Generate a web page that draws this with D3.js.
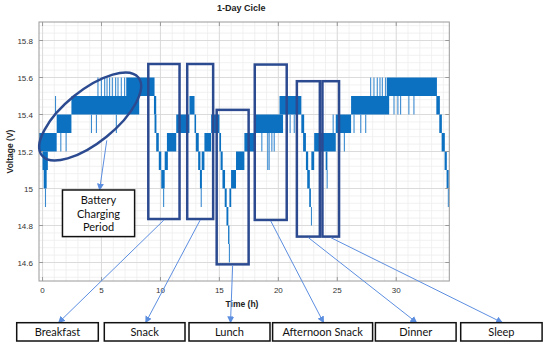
<!DOCTYPE html>
<html>
<head>
<meta charset="utf-8">
<script src="https://cdn.jsdelivr.net/npm/d3@7"></script>
<style>
  body { margin: 0; background: #fff; }
  svg { display: block; }
</style>
</head>
<body>
<div id="chart"></div>
<script>
// axis ticks
const xTicks = [0, 5, 10, 15, 20, 25, 30];
const yTicks = [14.6, 14.8, 15, 15.2, 15.4, 15.6, 15.8];

// dense switching between two voltage levels: [t start (h), t end (h), low V, high V]
const bands = [
  [-0.3, 1.2, 15.2, 15.3], [0.0, 0.45, 15.1, 15.2], [0.1, 0.35, 15.0, 15.1],
  [1.2, 2.45, 15.3, 15.4], [2.45, 8.2, 15.4, 15.5], [7.1, 9.5, 15.5, 15.6],
  // breakfast
  [9.45, 9.64, 15.4, 15.5], [9.5, 9.66, 15.3, 15.4], [9.64, 9.86, 15.2, 15.3],
  [9.86, 10.07, 15.1, 15.2], [10.07, 10.36, 15.0, 15.1], [10.36, 10.63, 15.1, 15.2],
  [10.55, 11.34, 15.2, 15.3], [11.34, 12.46, 15.3, 15.4], [12.46, 12.89, 15.4, 15.5],
  // snack
  [12.89, 13.02, 15.3, 15.4], [13.0, 13.25, 15.2, 15.3], [13.2, 13.39, 15.1, 15.2],
  [13.35, 13.52, 15.0, 15.1], [13.5, 13.73, 15.1, 15.2], [13.73, 14.3, 15.2, 15.3],
  [14.3, 15.0, 15.3, 15.4],
  // lunch
  [15.0, 15.14, 15.2, 15.3], [15.1, 15.28, 15.1, 15.2], [15.26, 15.48, 15.0, 15.1],
  [15.45, 15.62, 14.9, 15.0], [15.6, 15.76, 14.8, 14.9], [15.74, 15.85, 14.7, 14.8],
  [15.85, 16.0, 14.9, 15.0], [15.99, 16.41, 15.0, 15.1], [16.41, 17.12, 15.1, 15.2],
  [17.12, 17.96, 15.2, 15.3],
  // afternoon snack
  [17.96, 20.4, 15.3, 15.4], [20.1, 21.95, 15.4, 15.5],
  // dinner
  [21.95, 22.19, 15.3, 15.4], [22.1, 22.34, 15.2, 15.3], [22.34, 22.53, 15.1, 15.2],
  [22.45, 22.67, 15.0, 15.1], [22.62, 22.76, 14.9, 15.0], [22.8, 23.04, 15.1, 15.2],
  // sleep
  [23.04, 24.87, 15.2, 15.3], [24.02, 24.16, 15.1, 15.2], [24.87, 26.17, 15.3, 15.4],
  [26.17, 29.4, 15.4, 15.5], [29.2, 33.45, 15.5, 15.6],
  // end of day
  [33.4, 33.7, 15.4, 15.5], [33.65, 33.87, 15.3, 15.4], [33.85, 34.12, 15.2, 15.3],
  [34.1, 34.29, 15.1, 15.2], [34.27, 34.45, 15.0, 15.1]
];

// single short excursions: [t (h), from V, to V]
const spikes = [
  [0.25, 15.0, 14.9], [1.1, 15.4, 15.5], [1.55, 15.3, 15.2], [2.0, 15.3, 15.2],
  [4.15, 15.4, 15.3], [4.57, 15.4, 15.3], [6.26, 15.4, 15.3],
  [4.70, 15.5, 15.6], [4.99, 15.5, 15.6], [5.27, 15.5, 15.6], [5.47, 15.5, 15.6],
  [5.69, 15.5, 15.6], [5.92, 15.5, 15.6], [6.20, 15.5, 15.6], [6.40, 15.5, 15.6],
  [6.68, 15.5, 15.6], [6.96, 15.5, 15.6],
  [10.27, 15.0, 14.9], [13.46, 15.0, 14.9], [15.85, 14.7, 14.6],
  [18.6, 15.3, 15.2], [19.1, 15.3, 15.1], [19.22, 15.3, 15.1], [19.45, 15.3, 15.2], [19.65, 15.3, 15.2],
  [20.75, 15.4, 15.3], [21.0, 15.4, 15.3], [21.35, 15.4, 15.3],
  [22.81, 14.9, 14.8], [24.14, 15.1, 15.0], [24.65, 15.3, 15.4],
  [25.2, 15.3, 15.2], [25.6, 15.3, 15.2],
  [26.42, 15.4, 15.3], [26.99, 15.4, 15.3], [27.41, 15.4, 15.3],
  [27.83, 15.5, 15.6], [28.11, 15.5, 15.6], [28.39, 15.5, 15.6], [28.62, 15.5, 15.6],
  [28.82, 15.5, 15.6], [29.1, 15.5, 15.6],
  [29.81, 15.5, 15.4], [30.14, 15.5, 15.4], [30.37, 15.5, 15.4], [31.07, 15.5, 15.4], [31.5, 15.5, 15.4],
  [34.42, 15.0, 14.9]
];

// annotations
const mealLabels = ["Breakfast", "Snack", "Lunch", "Afternoon Snack", "Dinner", "Sleep"];
// highlighted windows: [t start, t end, low V, high V]
const mealWindows = [
  [8.97, 11.62, 14.835, 15.673],
  [12.27, 14.47, 14.835, 15.673],
  [14.77, 17.48, 14.59, 15.425],
  [18.0, 20.71, 14.83, 15.67],
  [21.57, 23.52, 14.74, 15.58],
  [23.74, 25.15, 14.74, 15.58]
];
const chargingLabel = ["Battery", "Charging", "Period"];

const W = 550, H = 348;
const plot = { left: 39, right: 449.3, top: 22, bottom: 281 };

const svg = d3.select("#chart").append("svg")
  .attr("width", W).attr("height", H)
  .style("font-family", "'Liberation Sans', Arial, sans-serif");

const x = d3.scaleLinear().domain([-0.3, 34.5]).range([plot.left, plot.right]);
const y = d3.scaleLinear().domain([14.5, 15.9]).range([plot.bottom, plot.top]);

// grid
const minorX = d3.range(0, 35, 1);
const minorY = d3.range(0, 35).map(i => 14.52 + i * 0.04);
const grid = svg.append("g");
grid.selectAll("line.mx").data(minorX).join("line")
  .attr("x1", d => x(d)).attr("x2", d => x(d))
  .attr("y1", plot.top).attr("y2", plot.bottom)
  .attr("stroke", "#ededed").attr("stroke-width", 0.8);
grid.selectAll("line.my").data(minorY).join("line")
  .attr("x1", plot.left).attr("x2", plot.right)
  .attr("y1", d => y(d)).attr("y2", d => y(d))
  .attr("stroke", "#ededed").attr("stroke-width", 0.8);
grid.selectAll("line.gx").data(xTicks).join("line")
  .attr("x1", d => x(d)).attr("x2", d => x(d))
  .attr("y1", plot.top).attr("y2", plot.bottom)
  .attr("stroke", "#d6d6d6").attr("stroke-width", 0.8);
grid.selectAll("line.gy").data(yTicks).join("line")
  .attr("x1", plot.left).attr("x2", plot.right)
  .attr("y1", d => y(d)).attr("y2", d => y(d))
  .attr("stroke", "#d6d6d6").attr("stroke-width", 0.8);

// data
svg.append("clipPath").attr("id", "clip").append("rect")
  .attr("x", plot.left).attr("y", plot.top)
  .attr("width", plot.right - plot.left).attr("height", plot.bottom - plot.top);

const trace = svg.append("g").attr("clip-path", "url(#clip)");
trace.selectAll("rect").data(bands).join("rect")
  .attr("x", d => x(d[0]))
  .attr("width", d => Math.max(1.2, x(d[1]) - x(d[0])))
  .attr("y", d => y(d[3]))
  .attr("height", d => y(d[2]) - y(d[3]))
  .attr("fill", "#0d71c2");
trace.selectAll("line").data(spikes).join("line")
  .attr("x1", d => x(d[0])).attr("x2", d => x(d[0]))
  .attr("y1", d => y(d[1])).attr("y2", d => y(d[2]))
  .attr("stroke", "#3a8ad0").attr("stroke-width", 1.1);

// axes box with inward ticks
const ax = svg.append("g").attr("stroke", "#9a9a9a").attr("stroke-width", 1);
ax.append("rect")
  .attr("x", plot.left).attr("y", plot.top)
  .attr("width", plot.right - plot.left).attr("height", plot.bottom - plot.top)
  .attr("fill", "none");
const tk = 4;
xTicks.forEach(t => {
  ax.append("line").attr("x1", x(t)).attr("x2", x(t)).attr("y1", plot.bottom).attr("y2", plot.bottom - tk);
  ax.append("line").attr("x1", x(t)).attr("x2", x(t)).attr("y1", plot.top).attr("y2", plot.top + tk);
});
yTicks.forEach(v => {
  ax.append("line").attr("x1", plot.left).attr("x2", plot.left + tk).attr("y1", y(v)).attr("y2", y(v));
  ax.append("line").attr("x1", plot.right).attr("x2", plot.right - tk).attr("y1", y(v)).attr("y2", y(v));
});

svg.selectAll("text.xt").data(xTicks).join("text")
  .attr("x", d => x(d)).attr("y", plot.bottom + 12)
  .attr("text-anchor", "middle").attr("font-size", 8).attr("fill", "#333")
  .text(d => d);
svg.selectAll("text.yt").data(yTicks).join("text")
  .attr("x", plot.left - 6).attr("y", d => y(d) + 3)
  .attr("text-anchor", "end").attr("font-size", 8).attr("fill", "#333")
  .text(d => d);

svg.append("text")
  .attr("x", (plot.left + plot.right) / 2 - 3).attr("y", 10.5)
  .attr("text-anchor", "middle").attr("font-size", 9).attr("font-weight", "bold")
  .attr("fill", "#222").text("1-Day Cicle");
svg.append("text")
  .attr("x", 242).attr("y", 307)
  .attr("text-anchor", "middle").attr("font-size", 8.5).attr("font-weight", "bold")
  .attr("fill", "#222").text("Time (h)");
svg.append("text")
  .attr("transform", `translate(13,${(plot.top + plot.bottom) / 2}) rotate(-90)`)
  .attr("text-anchor", "middle").attr("font-size", 8.5).attr("font-weight", "bold")
  .attr("fill", "#222").text("Voltage (V)");

// annotation layer
const dark = "#2b4a90", arrowCol = "#5c8ee0";
const defs = svg.append("defs");
defs.append("marker").attr("id", "ah")
  .attr("viewBox", "0 0 10 10").attr("refX", 9).attr("refY", 5)
  .attr("markerWidth", 7).attr("markerHeight", 7).attr("orient", "auto-start-reverse")
  .attr("markerUnits", "userSpaceOnUse")
  .append("path").attr("d", "M0,0 L10,5 L0,10 z").attr("fill", arrowCol);

const ann = svg.append("g");
ann.selectAll("rect.win").data(mealWindows).join("rect")
  .attr("x", d => x(d[0])).attr("width", d => x(d[1]) - x(d[0]))
  .attr("y", d => y(d[3])).attr("height", d => y(d[2]) - y(d[3]))
  .attr("fill", "none").attr("stroke", dark).attr("stroke-width", 2.5);

// charging ellipse
ann.append("ellipse")
  .attr("transform", `translate(${x(4.04)},${y(15.389)}) rotate(-39)`)
  .attr("rx", 62).attr("ry", 26)
  .attr("fill", "none").attr("stroke", dark).attr("stroke-width", 2.5);

// battery charging label
const bx0 = x(1.69), bx1 = x(7.81), by0 = y(14.992), by1 = y(14.74);
ann.append("line")
  .attr("x1", x(5.45)).attr("y1", y(15.26))
  .attr("x2", (bx0 + bx1) / 2 + 1).attr("y2", by0)
  .attr("stroke", arrowCol).attr("stroke-width", 1).attr("marker-end", "url(#ah)");
ann.append("rect")
  .attr("x", bx0).attr("y", by0).attr("width", bx1 - bx0).attr("height", by1 - by0)
  .attr("fill", "#fff").attr("stroke", "#111").attr("stroke-width", 1.5);
ann.selectAll("text.bl").data(chargingLabel).join("text")
  .attr("x", (bx0 + bx1) / 2).attr("y", (d, i) => by0 + 14.5 + i * 13.5)
  .attr("text-anchor", "middle").attr("font-family", "Lato, 'Open Sans', sans-serif")
  .attr("font-size", 11).attr("fill", "#111").text(d => d);

// meal labels under the chart
const labelBoxes = [[16.7, 98.3], [104.3, 185], [189, 270], [272.6, 372.6], [375.4, 456.1], [460.7, 542.1]];
const lTop = 322.7, lBot = 341;
ann.selectAll("line.arr").data(mealWindows).join("line")
  .attr("x1", d => (x(d[0]) + x(d[1])) / 2).attr("y1", d => y(d[2]) + 1)
  .attr("x2", (d, i) => (labelBoxes[i][0] + labelBoxes[i][1]) / 2 + 1).attr("y2", lTop)
  .attr("stroke", arrowCol).attr("stroke-width", 1).attr("marker-end", "url(#ah)");
ann.selectAll("rect.lb").data(labelBoxes).join("rect")
  .attr("x", d => d[0]).attr("width", d => d[1] - d[0])
  .attr("y", lTop).attr("height", lBot - lTop)
  .attr("fill", "#fff").attr("stroke", "#111").attr("stroke-width", 1.5);
ann.selectAll("text.lb").data(mealLabels).join("text")
  .attr("x", (d, i) => (labelBoxes[i][0] + labelBoxes[i][1]) / 2)
  .attr("y", (lTop + lBot) / 2 + 4)
  .attr("text-anchor", "middle").attr("font-family", "Lato, 'Open Sans', sans-serif")
  .attr("font-size", 11).attr("fill", "#111").text(d => d);
</script>
</body>
</html>
